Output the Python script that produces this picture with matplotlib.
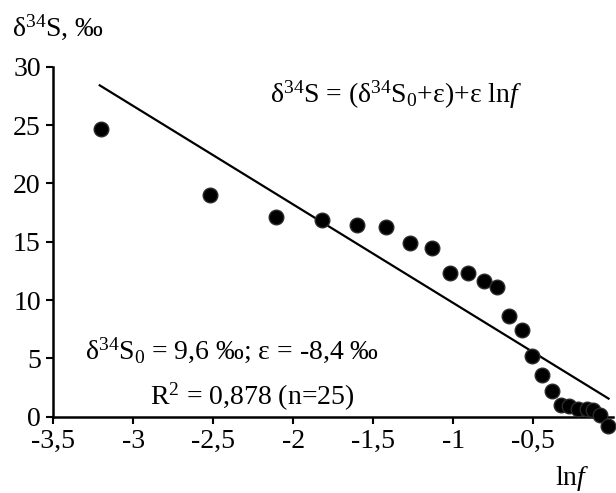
import matplotlib
matplotlib.use("Agg")
import matplotlib.pyplot as plt

# --- DATA ---
ln_f = [-3.20, -2.52, -2.11, -1.82, -1.60, -1.42, -1.27, -1.135,
        -1.02, -0.91, -0.81, -0.73, -0.65, -0.57, -0.51,
        -0.448, -0.385, -0.329, -0.275, -0.219, -0.166, -0.125, -0.083, -0.035]
d34s = [24.7, 19.0, 17.1, 16.9, 16.4, 16.3, 14.9, 14.5,
        12.3, 12.3, 11.6, 11.1, 8.6, 7.4, 5.2,
        3.6, 2.2, 1.0, 0.9, 0.63, 0.66, 0.6, 0.15, -0.77]

# regression line as drawn (end points)
fit_x = [-3.21, -0.03]
fit_y = [28.4, 1.55]

xticks = [-3.5, -3, -2.5, -2, -1.5, -1, -0.5]
xlabels = ["-3,5", "-3", "-2,5", "-2", "-1,5", "-1", "-0,5"]
yticks = [0, 5, 10, 15, 20, 25, 30]

# --- STYLE ---
plt.rcParams["font.family"] = ["Liberation Serif", "DejaVu Serif"]
plt.rcParams["mathtext.fontset"] = "custom"
plt.rcParams["mathtext.rm"] = "Liberation Serif"
plt.rcParams["mathtext.it"] = "Liberation Serif:italic"

fig = plt.figure(figsize=(6.16, 4.93), dpi=100)
ax = fig.add_axes([0.0866, 0.1075, 0.9091, 0.7572])

ax.plot(fit_x, fit_y, color="black", lw=1.6, zorder=2)
ax.plot(ln_f, d34s, "o", ms=10.5, mfc="black", mec="#2a2a2a", mew=1.0,
        clip_on=False, zorder=3)

ax.set_xlim(-3.5, 0)
ax.set_ylim(-2, 30)

ax.spines["top"].set_visible(False)
ax.spines["right"].set_visible(False)
ax.spines["bottom"].set_position(("data", 0))
ax.spines["left"].set_bounds(0, 30)
for s in ("bottom", "left"):
    ax.spines[s].set_linewidth(1.8)

ax.set_xticks(xticks)
ax.set_xticklabels(xlabels)
ax.set_yticks(yticks)
ax.tick_params(axis="both", direction="out", length=5, width=1.5,
               labelsize=20, pad=4)

ax.text(-2.146, 27.6, r"δ$^{34}$S = (δ$^{34}$S$_0$+ε)+ε ln$f$",
        fontsize=20, ha="left", va="center")
ax.text(-3.30, 5.7, r"δ$^{34}$S$_0$ = 9,6 ‰; ε = -8,4 ‰",
        fontsize=20, ha="left", va="center")
ax.text(-2.895, 1.7, r"R$^2$ = 0,878 (n=25)",
        fontsize=20, ha="left", va="center")

fig.text(0.0195, 0.945, r"δ$^{34}$S, ‰", fontsize=20, ha="left", va="center")
fig.text(0.901, 0.030, r"ln$f$", fontsize=20, ha="left", va="center")

fig.savefig("out.png", dpi=100)
